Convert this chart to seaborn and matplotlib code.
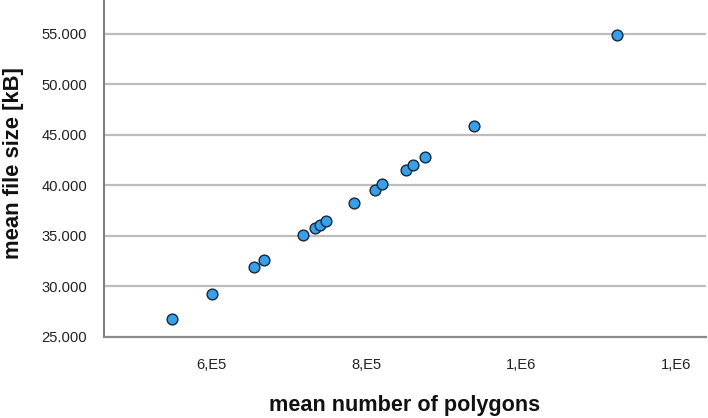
import pandas as pd
import seaborn as sns
import matplotlib
matplotlib.use("Agg")
import matplotlib.pyplot as plt

# values
polygons = [549000, 600400, 654000, 667500, 718300, 733300, 739400, 747500,
            783200, 810300, 820300, 851200, 860300, 876100, 939000, 1123500]
file_size = [26800, 29300, 31950, 32600, 35080, 35800, 36070, 36460,
             38240, 39590, 40120, 41530, 42060, 42790, 45880, 54940]

x_ticks = [600000, 800000, 1000000, 1200000]
x_tick_labels = ["6,E5", "8,E5", "1,E6", "1,E6"]
y_ticks = [25000, 30000, 35000, 40000, 45000, 50000, 55000]
y_tick_labels = ["25.000", "30.000", "35.000", "40.000", "45.000", "50.000", "55.000"]

df = pd.DataFrame({"polygons": polygons, "size": file_size})

sns.set_style("white")
plt.rcParams['font.family'] = ['Liberation Sans', 'DejaVu Sans']

fig = plt.figure(figsize=(7.08, 4.18), dpi=100)
ax = fig.add_axes([0.1469, 0.1938, 0.8503, 0.8062])

# grid lines first so the points sit on top
for yt in y_ticks[1:]:
    ax.axhline(yt, color="#bdbdbd", lw=1.6, zorder=1)

sns.scatterplot(data=df, x="polygons", y="size", ax=ax, s=60,
                color="#36a0e8", edgecolor="#17263a", linewidth=1.0, zorder=3)

ax.set_xlim(460600, 1238700)
ax.set_ylim(25000, 58360)
ax.set_xticks(x_ticks)
ax.set_xticklabels(x_tick_labels)
ax.set_yticks(y_ticks)
ax.set_yticklabels(y_tick_labels)

ax.tick_params(axis="y", length=6.5, width=1.2, color="#8a8a8a", pad=5.5,
               labelsize=10.6, labelcolor="#222222")
ax.tick_params(axis="x", length=7, width=1.2, color="#a8a8a8", pad=8,
               labelsize=10.6, labelcolor="#222222")

for side in ["top", "right"]:
    ax.spines[side].set_visible(False)
ax.spines["left"].set_color("#7a7a7a")
ax.spines["left"].set_linewidth(1.4)
ax.spines["bottom"].set_color("#8a8a8a")
ax.spines["bottom"].set_linewidth(1.6)

ax.set_xlabel("")
ax.set_ylabel("")
fig.text(405 / 708, 1 - 405 / 418, "mean number of polygons", ha="center",
         va="center", fontsize=15.6, fontweight="bold", color="#111111")
fig.text(14 / 708, 1 - 163 / 418, "mean file size [kB]", ha="center",
         va="center", rotation=90, fontsize=15.8, fontweight="bold", color="#111111")

fig.savefig("out.png", dpi=100)
